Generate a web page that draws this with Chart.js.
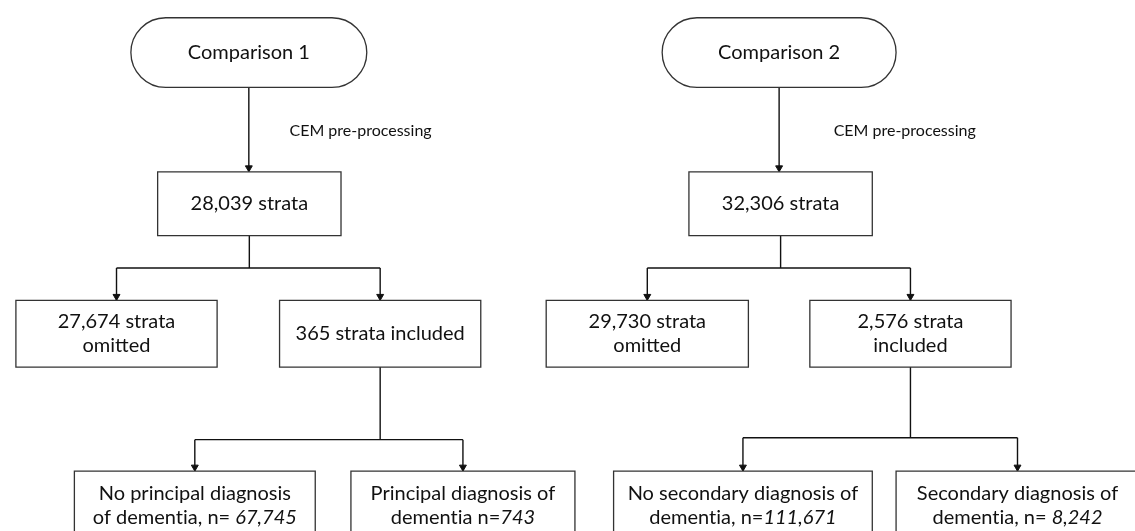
<!DOCTYPE html>
<html>
<head>
<meta charset="utf-8">
<script src="https://cdn.jsdelivr.net/npm/chart.js@4.4.1/dist/chart.umd.min.js"></script>
<style>
  html, body { margin: 0; padding: 0; background: #fff; }
  #flow { display: block; }
</style>
</head>
<body>
<canvas id="flow" width="1135" height="531"></canvas>
<script>
// Texts of the two flow diagrams (italic parts between *stars*)
const startLabels = ['Comparison 1', 'Comparison 2'];
const stepLabels = ['CEM pre-processing', 'CEM pre-processing'];
const totalLabels = [['28,039 strata'], ['32,306 strata']];
const omittedLabels = [['27,674 strata', 'omitted'], ['29,730 strata', 'omitted']];
const includedLabels = [['365 strata included'], ['2,576 strata', 'included']];
const noDiagnosisLabels = [
    ['No principal diagnosis', 'of dementia, n= *67,745*'],
    ['No secondary diagnosis of', 'dementia, n=*111,671*']
];
const diagnosisLabels = [
    ['Principal diagnosis of', 'dementia n=*743*'],
    ['Secondary diagnosis of', 'dementia, n= *8,242*']
];

// Layout of the boxes, in the same units as the hidden axes (0..1135, 0..531)
const layout = {
    start:     [{ x: 127, y: 13, w: 238, h: 71 }, { x: 663, y: 13, w: 236, h: 71 }],
    step:      [{ x: 287, y: 128 }, { x: 836, y: 128 }],
    total:     [{ x: 154, y: 170, w: 185, h: 65 }, { x: 690, y: 170, w: 185, h: 65 }],
    omitted:   [{ x: 11, y: 301, w: 203, h: 68 }, { x: 546, y: 301, w: 204, h: 68 }],
    included:  [{ x: 277, y: 301, w: 203, h: 68 }, { x: 812, y: 301, w: 203, h: 68 }],
    noDiag:    [{ x: 70, y: 475, w: 243, h: 80 }, { x: 614, y: 475, w: 261, h: 80 }],
    diag:      [{ x: 349, y: 475, w: 226, h: 80 }, { x: 899, y: 475, w: 245, h: 80 }],
    split1:    [268, 268],
    split2:    [443, 441]
};

const FONT = 'Lato, "Open Sans", sans-serif';
const ink = '#111';

function cx(b) { return b.x + b.w / 2; }
function bottom(b) { return b.y + b.h; }

// Build connector lines and arrow heads from the layout
const connectors = [];
const arrows = [];
const ARROW_R = 4;

function addDrop(xv, y0, y1) {
    connectors.push([{ x: xv, y: y0 }, { x: xv, y: y1 }]);
    arrows.push({ x: xv, y: y1 - ARROW_R });
}

function addSplit(from, left, right, ySplit) {
    connectors.push([{ x: cx(from), y: bottom(from) }, { x: cx(from), y: ySplit }]);
    connectors.push([{ x: cx(left), y: ySplit }, { x: cx(right), y: ySplit }]);
    addDrop(cx(left), ySplit, left.y);
    addDrop(cx(right), ySplit, right.y);
}

for (let i = 0; i < 2; i++) {
    addDrop(cx(layout.start[i]), bottom(layout.start[i]), layout.total[i].y);
    addSplit(layout.total[i], layout.omitted[i], layout.included[i], layout.split1[i]);
    addSplit(layout.included[i], layout.noDiag[i], layout.diag[i], layout.split2[i]);
}

const datasets = connectors.map(pts => ({
    type: 'line',
    data: pts,
    borderColor: ink,
    borderWidth: 1.4,
    pointRadius: 0,
    fill: false,
    clip: false
}));
datasets.push({
    type: 'scatter',
    data: arrows,
    pointStyle: 'triangle',
    rotation: 180,
    pointRadius: ARROW_R,
    backgroundColor: ink,
    borderColor: ink,
    borderWidth: 1,
    clip: false
});

// Draw one text line, switching to italic between *stars*
function drawLine(ctx, text, xMid, yMid, size) {
    // break the Lato "ti" ligature
    const parts = text.replace(/ti/g, 't\u200Ci').split('*')
        .map((t, k) => ({ t: t, it: k % 2 === 1 })).filter(p => p.t);
    let total = 0;
    parts.forEach(p => {
        ctx.font = (p.it ? 'italic ' : '') + size + 'px ' + FONT;
        p.w = ctx.measureText(p.t).width;
        total += p.w;
    });
    let xx = xMid - total / 2;
    parts.forEach(p => {
        ctx.font = (p.it ? 'italic ' : '') + size + 'px ' + FONT;
        ctx.fillText(p.t, xx, yMid);
        xx += p.w;
    });
}

const boxPlugin = {
    id: 'boxes',
    afterDatasetsDraw(chart) {
        const ctx = chart.ctx;
        const sx = chart.scales.x, sy = chart.scales.y;
        const px = v => sx.getPixelForValue(v);
        const py = v => sy.getPixelForValue(v);

        function box(b, lines, rounded, textTop) {
            const x0 = px(b.x), x1 = px(b.x + b.w);
            const y0 = py(b.y), y1 = py(b.y + b.h);
            ctx.save();
            ctx.lineWidth = 1.3;
            ctx.strokeStyle = '#333';
            ctx.fillStyle = '#fff';
            ctx.beginPath();
            if (rounded) {
                const r = (y1 - y0) / 2;
                ctx.moveTo(x0 + r, y0);
                ctx.lineTo(x1 - r, y0);
                ctx.arc(x1 - r, y0 + r, r, -Math.PI / 2, Math.PI / 2);
                ctx.lineTo(x0 + r, y1);
                ctx.arc(x0 + r, y0 + r, r, Math.PI / 2, Math.PI * 1.5);
                ctx.closePath();
            } else {
                ctx.rect(x0, y0, x1 - x0, y1 - y0);
            }
            ctx.fill();
            ctx.stroke();
            ctx.fillStyle = ink;
            ctx.textBaseline = 'middle';
            ctx.textAlign = 'left';
            const lh = 24;
            const yStart = textTop != null ? py(textTop) : (y0 + y1) / 2 - (lines.length - 1) * lh / 2;
            lines.forEach((l, k) => drawLine(ctx, l, (x0 + x1) / 2, yStart + k * lh, 20));
            ctx.restore();
        }

        for (let i = 0; i < 2; i++) {
            box(layout.start[i], [startLabels[i]], true);
            box(layout.total[i], totalLabels[i], false);
            box(layout.omitted[i], omittedLabels[i], false);
            box(layout.included[i], includedLabels[i], false);
            box(layout.noDiag[i], noDiagnosisLabels[i], false, layout.noDiag[i].y + 23);
            box(layout.diag[i], diagnosisLabels[i], false, layout.diag[i].y + 23);

            ctx.save();
            ctx.fillStyle = ink;
            ctx.font = '16px ' + FONT;
            ctx.textBaseline = 'middle';
            ctx.textAlign = 'left';
            ctx.fillText(stepLabels[i], px(layout.step[i].x), py(layout.step[i].y));
            ctx.restore();
        }
    }
};

const flowChart = new Chart(document.getElementById('flow').getContext('2d'), {
    type: 'scatter',
    data: { datasets: datasets },
    options: {
        responsive: false,
        animation: false,
        devicePixelRatio: 1,
        layout: { padding: 0 },
        plugins: { legend: { display: false }, tooltip: { enabled: false } },
        scales: {
            x: { type: 'linear', min: 0, max: 1135, display: false },
            y: { type: 'linear', min: 0, max: 531, reverse: true, display: false }
        }
    },
    plugins: [boxPlugin]
});
</script>
</body>
</html>
